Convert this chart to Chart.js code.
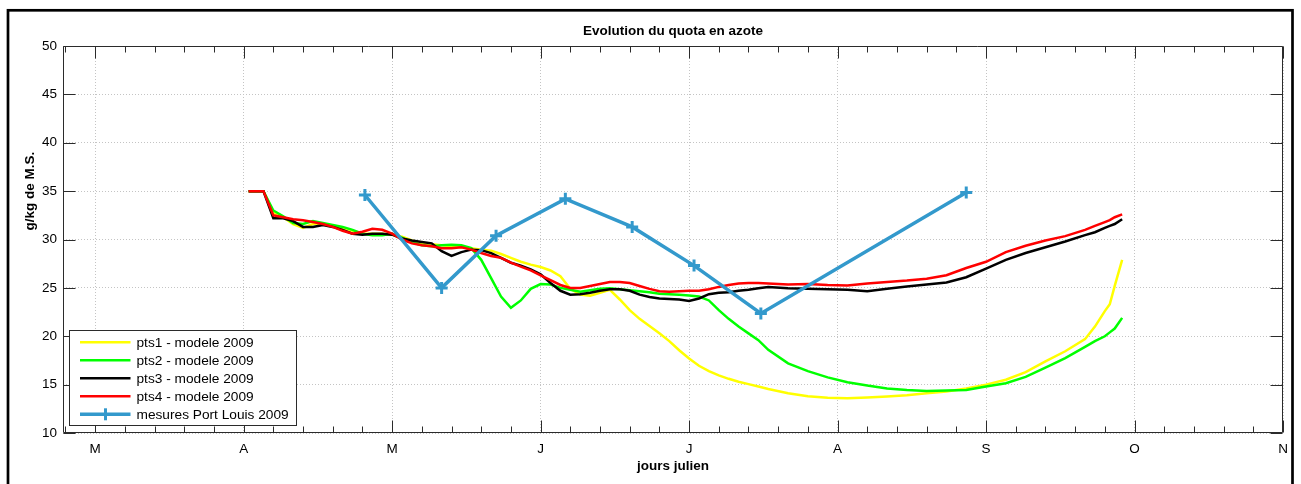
<!DOCTYPE html>
<html>
<head>
<meta charset="utf-8">
<title>Evolution du quota en azote</title>
<script src="https://cdn.jsdelivr.net/npm/chart.js@4.4.0/dist/chart.umd.min.js"></script>
<style>
  body { margin: 0; background: #fff; }
  #wrap { width: 1301px; height: 484px; }
</style>
</head>
<body>
<div id="wrap"><canvas id="quota" width="1301" height="484"></canvas></div>
<script>
// days (jours julien) shared by the four model runs
var days = [91, 94, 96, 98, 100, 102, 104, 106, 108, 110, 112, 114, 116, 118, 120, 122, 124, 126, 128, 130,
  132, 134, 136, 138, 140, 142, 144, 146, 148, 150, 152, 154, 156, 158, 160, 162, 164, 166, 168, 170,
  172, 174, 176, 178, 180, 182, 184, 186, 188, 190, 192, 194, 196, 200, 204, 208, 212, 216, 220, 224,
  228, 232, 236, 240, 244, 248, 252, 256, 260, 262, 264, 265, 266, 267.5];

var pts1 = [35.0, 35.0, 32.8, 32.3, 31.6, 31.2, 31.6, 31.6, 31.4, 31.2, 30.9, 30.6, 30.6, 30.6, 30.5, 30.3, 29.9, 29.6, 29.5, 29.4,
  29.3, 29.2, 29.1, 28.95, 28.85, 28.5, 28.1, 27.7, 27.4, 27.15, 26.8, 26.2, 24.9, 24.3, 24.2, 24.5, 24.8, 23.8, 22.7, 21.8,
  21.05, 20.3, 19.5, 18.55, 17.7, 16.95, 16.4, 15.95, 15.6, 15.3, 15.05, 14.8, 14.55, 14.1, 13.8, 13.65, 13.6, 13.68, 13.78, 13.9,
  14.1, 14.3, 14.6, 15.0, 15.5, 16.3, 17.4, 18.45, 19.7, 21.0, 22.6, 23.3, 25.2, 27.9];

var pts2 = [35.0, 35.0, 33.0, 32.4, 31.7, 31.6, 31.9, 31.7, 31.5, 31.3, 31.0, 30.6, 30.45, 30.45, 30.6, 30.2, 29.7, 29.4, 29.3, 29.4,
  29.45, 29.4, 29.1, 27.9, 26.0, 24.1, 22.95, 23.7, 24.9, 25.4, 25.35, 25.0, 24.8, 24.6, 24.75, 24.9, 24.95, 24.85, 24.75, 24.65,
  24.55, 24.4, 24.35, 24.3, 24.2, 24.1, 23.7, 22.7, 21.8, 21.0, 20.3, 19.6, 18.6, 17.2, 16.4, 15.75, 15.25, 14.9, 14.6, 14.45,
  14.35, 14.38, 14.45, 14.8, 15.15, 15.8, 16.75, 17.75, 18.9, 19.5, 20.0, 20.4, 20.8, 21.9];

var pts3 = [35.0, 35.0, 32.2, 32.2, 31.9, 31.3, 31.3, 31.5, 31.3, 31.0, 30.6, 30.5, 30.6, 30.6, 30.5, 30.1, 29.9, 29.75, 29.6, 28.8,
  28.3, 28.7, 28.95, 28.9, 28.6, 28.1, 27.6, 27.3, 26.9, 26.4, 25.5, 24.7, 24.3, 24.35, 24.5, 24.7, 24.85, 24.85, 24.7, 24.3,
  24.05, 23.9, 23.85, 23.8, 23.65, 23.9, 24.35, 24.5, 24.55, 24.7, 24.8, 24.95, 25.1, 24.95, 24.9, 24.85, 24.8, 24.65, 24.9, 25.15,
  25.35, 25.55, 26.1, 27.0, 27.9, 28.6, 29.2, 29.8, 30.45, 30.75, 31.2, 31.4, 31.6, 32.1];

var pts4 = [35.0, 35.0, 32.5, 32.3, 32.1, 32.0, 31.8, 31.6, 31.3, 30.9, 30.6, 30.8, 31.1, 31.0, 30.6, 30.0, 29.6, 29.4, 29.3, 29.1,
  29.1, 29.2, 28.95, 28.6, 28.3, 28.1, 27.6, 27.2, 26.8, 26.3, 25.8, 25.3, 25.0, 25.0, 25.2, 25.4, 25.6, 25.6, 25.5, 25.2,
  24.9, 24.65, 24.6, 24.65, 24.7, 24.7, 24.85, 25.1, 25.3, 25.45, 25.5, 25.5, 25.45, 25.35, 25.4, 25.3, 25.25, 25.45, 25.6, 25.75,
  25.95, 26.3, 27.05, 27.7, 28.7, 29.35, 29.9, 30.35, 31.0, 31.4, 31.8, 32.0, 32.3, 32.6];

// field measurements
var mesDays = [114.5, 130, 141, 155, 168.5, 181, 194.5, 236];
var mesValues = [34.6, 25.0, 30.4, 34.2, 31.3, 27.3, 22.35, 34.85];

// axis ticks
var monthTicks = [60, 90, 120, 150, 180, 210, 240, 270, 300];
var monthLabels = ['M', 'A', 'M', 'J', 'J', 'A', 'S', 'O', 'N'];
var yTicks = [10, 15, 20, 25, 30, 35, 40, 45, 50];
var yTitle = 'g/kg de M.S.';

function toPoints(xs, ys) {
  return xs.map(function (d, i) { return { x: d, y: ys[i] }; });
}

var FONT = "'Liberation Sans', Arial, sans-serif";
Chart.defaults.font.family = FONT;
Chart.defaults.color = '#000';

// white page + black frame around the figure
var frame = {
  id: 'frame',
  beforeDraw: function (chart) {
    var ctx = chart.ctx;
    ctx.save();
    ctx.fillStyle = '#fff';
    ctx.fillRect(0, 0, chart.width, chart.height);
    ctx.restore();
  },
  afterDraw: function (chart) {
    var ctx = chart.ctx;
    ctx.save();
    ctx.strokeStyle = '#000';
    ctx.lineWidth = 2.7;
    ctx.strokeRect(8, 10.3, 1284.5, 500);
    ctx.restore();
  }
};

// ylabel, placed like in the original figure (a bit above the middle)
var yLabel = {
  id: 'yLabel',
  afterDraw: function (chart) {
    var ctx = chart.ctx, ys = chart.scales.y;
    ctx.save();
    ctx.translate(30, ys.getPixelForValue(35));
    ctx.rotate(-Math.PI / 2);
    ctx.font = 'bold 13.5px ' + FONT;
    ctx.fillStyle = '#000';
    ctx.textAlign = 'center';
    ctx.textBaseline = 'middle';
    ctx.fillText(yTitle, 0, 0);
    ctx.restore();
  }
};

// matlab style box with inward ticks on four sides
var matlabBox = {
  id: 'matlabBox',
  afterDatasetsDraw: function (chart) {
    var ctx = chart.ctx, a = chart.chartArea, xs = chart.scales.x, ys = chart.scales.y;
    var L = Math.round(a.left) + 0.5, R = Math.round(a.right) - 0.5;
    var T = Math.round(a.top) + 0.5, B = Math.round(a.bottom) - 0.5;
    ctx.save();
    ctx.strokeStyle = '#2b2b2b';
    ctx.lineWidth = 1;
    ctx.beginPath();
    ctx.moveTo(L, T); ctx.lineTo(R, T); ctx.lineTo(R, B); ctx.lineTo(L, B); ctx.closePath();
    var start = monthTicks[0] - 6 * Math.floor((monthTicks[0] - xs.min) / 6);
    for (var v = start; v <= xs.max + 0.01; v += 6) {
      var px = Math.round(xs.getPixelForValue(v)) + 0.5;
      var len = ((v - monthTicks[0]) % 30 === 0) ? 12 : 6;
      ctx.moveTo(px, B); ctx.lineTo(px, B - len);
      ctx.moveTo(px, T); ctx.lineTo(px, T + len);
    }
    yTicks.forEach(function (t) {
      var py = Math.round(ys.getPixelForValue(t)) + 0.5;
      ctx.moveTo(L, py); ctx.lineTo(L + 12, py);
      ctx.moveTo(R, py); ctx.lineTo(R - 12, py);
    });
    ctx.stroke();
    ctx.restore();
  }
};

// boxed legend in the lower left corner of the axes
var boxLegend = {
  id: 'boxLegend',
  afterDraw: function (chart) {
    var ctx = chart.ctx, a = chart.chartArea;
    var sets = chart.data.datasets;
    var x0 = Math.round(a.left) + 6.5, y1 = Math.round(a.bottom) - 7.5;
    var w = 227, h = 95, y0 = y1 - h;
    ctx.save();
    ctx.fillStyle = '#fff';
    ctx.fillRect(x0, y0, w, h);
    ctx.strokeStyle = '#2b2b2b';
    ctx.lineWidth = 1;
    ctx.strokeRect(x0, y0, w, h);
    ctx.font = '13.7px ' + FONT;
    ctx.textBaseline = 'middle';
    ctx.fillStyle = '#000';
    sets.forEach(function (ds, i) {
      var yy = y0 + 11.8 + i * 18;
      ctx.strokeStyle = ds.borderColor;
      ctx.lineWidth = ds.borderWidth;
      ctx.beginPath();
      ctx.moveTo(x0 + 10.5, yy); ctx.lineTo(x0 + 61, yy);
      ctx.stroke();
      if (ds.pointStyle === 'cross') {
        var cx = x0 + 36;
        ctx.lineWidth = ds.pointBorderWidth;
        ctx.beginPath();
        ctx.moveTo(cx, yy - ds.pointRadius); ctx.lineTo(cx, yy + ds.pointRadius);
        ctx.stroke();
      }
      ctx.fillText(ds.label, x0 + 67, yy + 0.5);
    });
    ctx.restore();
  }
};

new Chart(document.getElementById('quota').getContext('2d'), {
  type: 'line',
  data: {
    datasets: [
      { label: 'pts1 - modele 2009', data: toPoints(days, pts1), borderColor: '#ffff00', borderWidth: 2.5, pointRadius: 0, order: 5 },
      { label: 'pts2 - modele 2009', data: toPoints(days, pts2), borderColor: '#00ff00', borderWidth: 2.5, pointRadius: 0, order: 4 },
      { label: 'pts3 - modele 2009', data: toPoints(days, pts3), borderColor: '#000000', borderWidth: 2.5, pointRadius: 0, order: 3 },
      { label: 'pts4 - modele 2009', data: toPoints(days, pts4), borderColor: '#ff0000', borderWidth: 2.5, pointRadius: 0, order: 2 },
      { label: 'mesures Port Louis 2009', data: toPoints(mesDays, mesValues), borderColor: '#3399cc', borderWidth: 3.5,
        pointStyle: 'cross', pointRadius: 6, pointBorderWidth: 3, pointBorderColor: '#3399cc', order: 1 }
    ]
  },
  options: {
    responsive: false,
    animation: false,
    devicePixelRatio: 1,
    layout: { padding: { left: 0, right: 18, top: 0, bottom: 0 } },
    plugins: {
      legend: { display: false },
      tooltip: { enabled: false },
      title: {
        display: true, text: 'Evolution du quota en azote', fullSize: false, color: '#000',
        font: { size: 13.5, weight: 'bold' }, padding: { top: 23, bottom: 6.8 }
      }
    },
    scales: {
      x: {
        type: 'linear', min: 53.5, max: 300,
        afterBuildTicks: function (s) { s.ticks = monthTicks.map(function (v) { return { value: v }; }); },
        afterFit: function (s) { s.height = 51; },
        ticks: {
          autoSkip: false, maxRotation: 0, padding: 8, color: '#000', font: { size: 13.5 },
          callback: function (v, i) { return monthLabels[i]; }
        },
        grid: { color: '#c4c4c4', drawTicks: false },
        border: { display: false, dash: [1, 2] },
        title: { display: true, text: 'jours julien', color: '#000', font: { size: 13.5, weight: 'bold' }, padding: { top: 0, bottom: 10 } }
      },
      y: {
        min: 10, max: 50,
        afterBuildTicks: function (s) { s.ticks = yTicks.map(function (v) { return { value: v }; }); },
        afterFit: function (s) { s.width = 63; },
        ticks: { padding: 6, color: '#000', font: { size: 13.5 } },
        grid: { color: '#c4c4c4', drawTicks: false },
        border: { display: false, dash: [1, 2] }
      }
    }
  },
  plugins: [frame, matlabBox, boxLegend, yLabel]
});
</script>
</body>
</html>
